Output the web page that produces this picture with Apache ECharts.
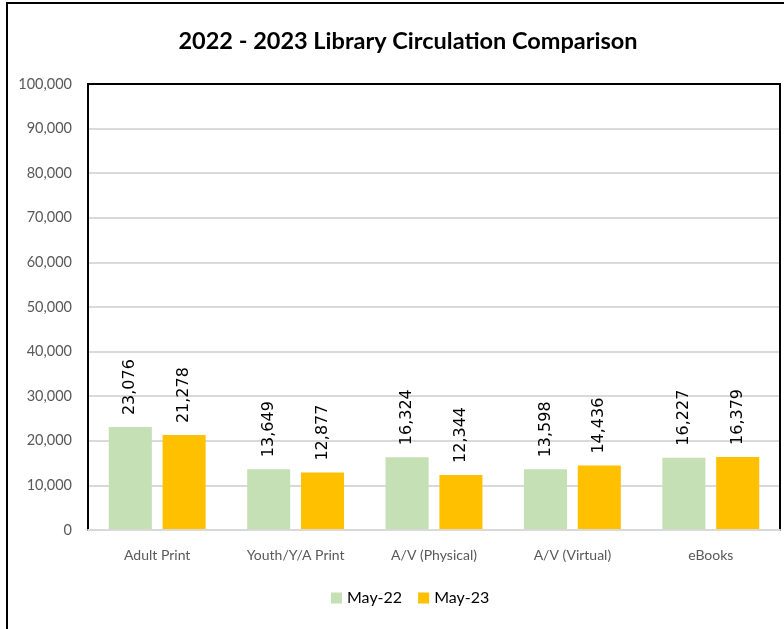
<!DOCTYPE html>
<html>
<head>
<meta charset="utf-8">
<script src="https://cdn.jsdelivr.net/npm/echarts@6/dist/echarts.min.js"></script>
<style>
  html, body { margin: 0; padding: 0; background: #fff; }
  #chart { width: 784px; height: 629px; }
</style>
</head>
<body>
<div id="chart"></div>
<script>
var categories = ['Adult Print', 'Youth/Y/A Print', 'A/V (Physical)', 'A/V (Virtual)', 'eBooks'];
var may22 = [23076, 13649, 16324, 13598, 16227];
var may23 = [21278, 12877, 12344, 14436, 16379];

var myChart = echarts.init(document.getElementById('chart'));

var labelStyle = {
    show: true,
    position: 'top',
    rotate: 90,
    align: 'left',
    verticalAlign: 'middle',
    distance: 12,
    color: '#000',
    fontFamily: 'DejaVu Sans',
    fontSize: 16,
    formatter: function (p) { return echarts.format.addCommas(p.value); }
};

var option = {
    animation: false,
    title: {
        text: '2022 - 2023 Library Circulation Comparison',
        left: 403,
        textAlign: 'center',
        top: 24,
        textStyle: {
            fontFamily: 'Lato',
            fontWeight: 'bold',
            fontSize: 23.5,
            color: '#000'
        }
    },
    graphic: [
        {
            type: 'rect',
            shape: { x: 7, y: 3, width: 790, height: 640 },
            style: { fill: 'none', stroke: '#000', lineWidth: 2 }
        },
        {
            type: 'rect',
            z: 100,
            shape: { x: 88, y: 84, width: 692, height: 446 },
            style: { fill: 'none', stroke: '#000', lineWidth: 2 }
        }
    ],
    legend: {
        bottom: 18,
        left: 326,
        itemWidth: 11,
        itemHeight: 11,
        itemGap: 16,
        icon: 'rect',
        textStyle: { fontFamily: 'Lato', fontSize: 16, color: '#000' },
        data: ['May-22', 'May-23']
    },
    grid: {
        left: 88,
        right: 4,
        top: 84,
        bottom: 99
    },
    xAxis: {
        type: 'category',
        data: categories,
        z: 101,
        axisLine: { lineStyle: { color: '#d9d9d9', width: 2 } },
        axisTick: { show: false },
        axisLabel: {
            margin: 18,
            color: '#595959',
            fontFamily: 'Lato',
            fontSize: 14
        }
    },
    yAxis: {
        type: 'value',
        min: 0,
        max: 100000,
        interval: 10000,
        axisLine: { show: false },
        axisTick: { show: false },
        splitLine: { lineStyle: { color: '#d9d9d9', width: 2 } },
        axisLabel: {
            margin: 16,
            color: '#595959',
            fontFamily: 'Lato',
            fontSize: 14.5,
            formatter: function (v) { return echarts.format.addCommas(v); }
        }
    },
    series: [
        {
            name: 'May-22',
            type: 'bar',
            data: may22,
            barGap: '25%',
            barCategoryGap: '30%',
            itemStyle: { color: '#C5E0B4' },
            label: labelStyle
        },
        {
            name: 'May-23',
            type: 'bar',
            data: may23,
            itemStyle: { color: '#FFC000' },
            label: labelStyle
        }
    ]
};

myChart.setOption(option);
</script>
</body>
</html>
